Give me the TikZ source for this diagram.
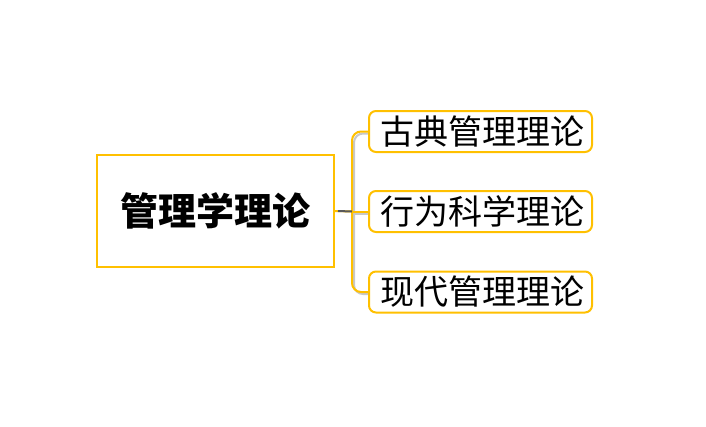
\documentclass[tikz,border=0pt]{standalone}
\usepackage{fontspec}
\newfontfamily\cjk{Noto Sans CJK SC}
\definecolor{gold}{RGB}{255,192,0}
\definecolor{shade}{RGB}{200,200,200}
\begin{document}
\begin{tikzpicture}[x=1pt,y=-1pt,
  mainbox/.style={draw=gold,line width=2pt,fill=white,minimum width=237pt,minimum height=112pt,inner sep=0pt,
    font=\cjk\bfseries\fontsize{38}{42}\selectfont},
  subbox/.style={draw=gold,line width=2pt,fill=white,rounded corners=7pt,minimum width=223pt,minimum height=41pt,inner sep=0pt,
    font=\cjk\fontsize{34}{38}\selectfont},
  link/.style={draw=gold,line width=2pt,rounded corners=9pt},
  shadowline/.style={draw=shade,line width=2pt,rounded corners=9pt}]
\useasboundingbox (0,0) rectangle (706,426);
\fill[white] (0,0) rectangle (706,426);
\coordinate (j) at (352,211.5);
\coordinate (js) at (354,213.5);
% shadows
\draw[shadowline] (371,133.5) -| (js) |- (371,294);
\draw[shadowline] (js) -- (371,213.5);
\node[mainbox] (main) at (215.5,211) {管理学理论};
\node[subbox] (b1) at (480.5,131.5) {\hspace*{4pt}古典管理理论};
\node[subbox] (b2) at (480.5,211.5) {\hspace*{4pt}行为科学理论};
\node[subbox] (b3) at (480.5,292) {\hspace*{4pt}现代管理理论};
\draw[link] (b1.west) -| (j) |- (b3.west);
\draw[link] (j) -- (b2.west);
\draw[draw=gold,line width=2pt] (main.east) -- (j);
\draw[draw=black!65,line width=2pt] ([xshift=3pt]main.east) -- (j);
\end{tikzpicture}
\end{document}
